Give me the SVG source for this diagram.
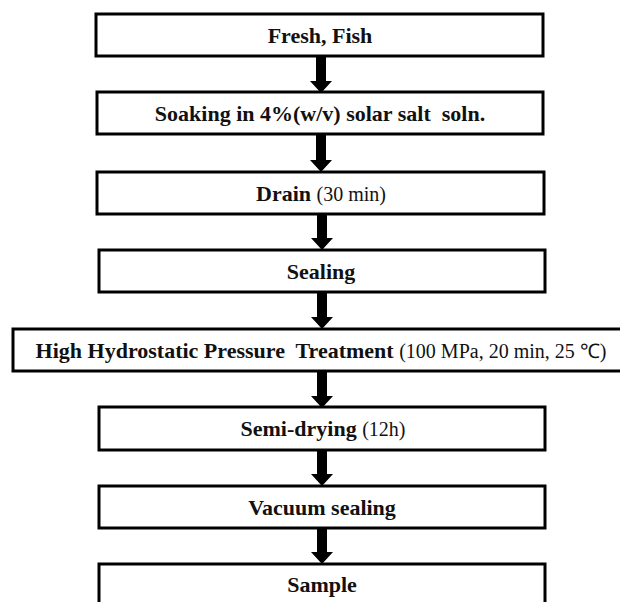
<svg xmlns="http://www.w3.org/2000/svg" width="620" height="602" viewBox="0 0 620 602">
<defs>
<style>
.box{fill:#fff;stroke:#000;stroke-width:3}
.t{font-family:"Liberation Serif","Times New Roman",serif;font-size:22px;font-weight:bold;fill:#111;text-anchor:middle;white-space:pre}
.n{font-weight:normal;font-size:20px}
.arr{fill:#000}
</style>
</defs>
<rect width="620" height="602" fill="#fff"/>
<g id="connectors" class="arr">
<path d="M316,56 H326 V81 H332 L321,93 L310,81 H316 Z"/>
<path d="M316,134 H326 V160 H332 L321,172 L310,160 H316 Z"/>
<path d="M317,214 H327 V238 H333 L322,250 L311,238 H317 Z"/>
<path d="M317,292 H327 V317 H333 L322,329 L311,317 H317 Z"/>
<path d="M317,371 H327 V396 H333 L322,408 L311,396 H317 Z"/>
<path d="M317,450 H327 V474 H333 L322,486 L311,474 H317 Z"/>
<path d="M317,528 H327 V552 H333 L322,564 L311,552 H317 Z"/>
</g>
<g id="n1"><rect class="box" x="96" y="14" width="447" height="42"/><text class="t" x="320" y="43">Fresh, Fish</text></g>
<g id="n2"><rect class="box" x="97" y="92" width="446" height="42"/><text class="t" x="320" y="121" xml:space="preserve">Soaking in 4%(w/v) solar salt  soln.</text></g>
<g id="n3"><rect class="box" x="97" y="172" width="447" height="42"/><text class="t" x="321" y="201">Drain <tspan class="n">(30 min)</tspan></text></g>
<g id="n4"><rect class="box" x="99" y="250" width="446" height="42"/><text class="t" x="321" y="279">Sealing</text></g>
<g id="n5"><rect class="box" x="13" y="329" width="612" height="42"/><text class="t" x="321" y="358" xml:space="preserve">High Hydrostatic Pressure  Treatment <tspan class="n">(100 MPa, 20 min, 25 ℃)</tspan></text></g>
<g id="n6"><rect class="box" x="99" y="407" width="446" height="43"/><text class="t" x="323" y="436">Semi-drying <tspan class="n">(12h)</tspan></text></g>
<g id="n7"><rect class="box" x="99" y="486" width="446" height="42"/><text class="t" x="322" y="515">Vacuum sealing</text></g>
<g id="n8"><rect class="box" x="99" y="564" width="446" height="44"/><text class="t" x="322" y="592">Sample</text></g>
</svg>
